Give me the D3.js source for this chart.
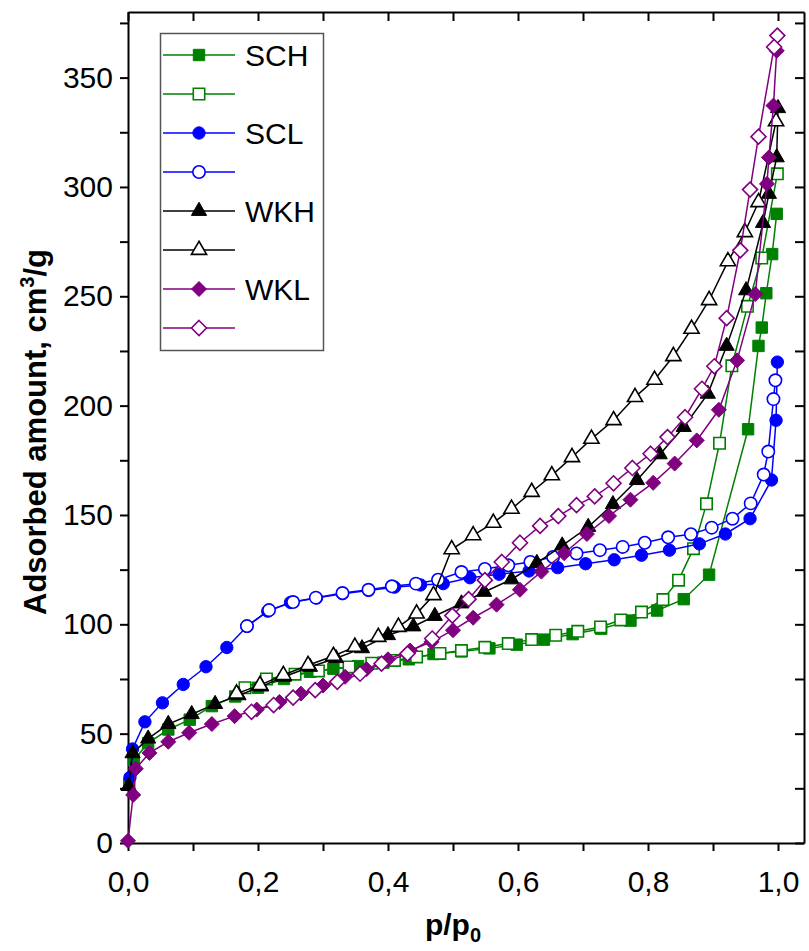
<!DOCTYPE html>
<html>
<head>
<meta charset="utf-8">
<script src="https://cdn.jsdelivr.net/npm/d3@7"></script>
<style>
  body { margin: 0; background: #fff; }
  svg { display: block; font-family: Arial, "Liberation Sans", sans-serif; }
</style>
</head>
<body>
<div id="container"></div>
<script>
// ---- data (p/p0, adsorbed amount cm3/g) ----
const SCH_ads_p = [0.002, 0.009, 0.031, 0.062, 0.095, 0.129, 0.165, 0.2, 0.24, 0.28, 0.316, 0.354, 0.393, 0.432, 0.47, 0.513, 0.556, 0.598, 0.64, 0.684, 0.728, 0.773, 0.814, 0.855, 0.894, 0.954, 0.97, 0.975, 0.982, 0.991, 0.998];
const SCH_ads_v = [27, 38, 45.7, 51.9, 56.4, 62.6, 67, 71, 75, 78.3, 79.7, 80.9, 82.5, 84, 86.4, 87.6, 89, 90.7, 93, 95.5, 98, 101.7, 106.3, 111.5, 122.7, 189.2, 227.3, 235.7, 251.4, 269.3, 287.7];
const SCH_des_p = [0.999, 0.975, 0.953, 0.929, 0.91, 0.89, 0.87, 0.847, 0.823, 0.79, 0.758, 0.727, 0.692, 0.658, 0.621, 0.585, 0.549, 0.513, 0.48, 0.444, 0.41, 0.375, 0.34, 0.293, 0.257, 0.213, 0.18];
const SCH_des_v = [306, 267.5, 245.4, 218.2, 182.8, 155.1, 134.6, 120.2, 111.3, 105.6, 102, 98.8, 96.8, 95, 93, 91.2, 89.5, 88, 86.7, 85.1, 83.5, 82.2, 80.5, 78.7, 77.2, 75, 71];

const SCL_ads_p = [0.003, 0.007, 0.026, 0.053, 0.085, 0.12, 0.152, 0.183, 0.215, 0.25, 0.29, 0.33, 0.37, 0.41, 0.45, 0.485, 0.526, 0.571, 0.617, 0.661, 0.704, 0.748, 0.79, 0.833, 0.879, 0.919, 0.957, 0.99, 0.997, 0.999];
const SCL_ads_v = [30, 43, 55.4, 64.1, 72.5, 80.6, 89.4, 99, 106, 110, 112, 114, 115.5, 117, 118, 118.6, 121.3, 122.9, 124.4, 125.9, 127.7, 129.5, 131.6, 133.9, 136.8, 141.3, 148.3, 166, 193.3, 219.9];
const SCL_des_p = [0.996, 0.993, 0.985, 0.978, 0.958, 0.93, 0.898, 0.866, 0.831, 0.795, 0.761, 0.726, 0.69, 0.654, 0.619, 0.585, 0.549, 0.513, 0.477, 0.443, 0.406, 0.37, 0.33, 0.289, 0.254, 0.217, 0.183];
const SCL_des_v = [211.6, 203, 179, 168.5, 155.3, 148.3, 144.2, 141.2, 139.8, 137.3, 135.4, 133.9, 132.4, 130.8, 128.5, 127, 125.3, 123.9, 120.4, 118.6, 117.4, 115.8, 114.3, 112.2, 110.2, 106.5, 99.2];

const WKH_ads_p = [0.001, 0.007, 0.031, 0.062, 0.098, 0.134, 0.17, 0.205, 0.24, 0.28, 0.32, 0.36, 0.4, 0.439, 0.472, 0.513, 0.548, 0.59, 0.629, 0.668, 0.708, 0.746, 0.783, 0.818, 0.855, 0.892, 0.921, 0.951, 0.977, 0.986, 0.998, 1.0];
const WKH_ads_v = [26, 41, 47.7, 54.4, 58.9, 63.5, 67.5, 71.5, 76, 80.5, 84.5, 89, 95, 99, 103.8, 109.5, 114.8, 120.5, 128, 136, 144.5, 154.9, 165.9, 177.7, 190.2, 205.4, 227.3, 252.7, 283.5, 296.8, 313.5, 336];
const WKH_des_p = [0.997, 0.97, 0.949, 0.923, 0.894, 0.867, 0.839, 0.81, 0.78, 0.747, 0.713, 0.683, 0.652, 0.621, 0.59, 0.562, 0.531, 0.498, 0.47, 0.444, 0.416, 0.385, 0.349, 0.316, 0.277, 0.239, 0.203, 0.167];
const WKH_des_v = [330, 293, 279.3, 266, 248.2, 235.1, 222.6, 211.8, 203.9, 193.3, 184.8, 176.4, 168.1, 160.5, 152.8, 146.4, 140.7, 134.3, 113.3, 104.9, 98.8, 94.2, 89.7, 85.5, 81.3, 76.8, 72.2, 68.3];

const WKL_ads_p = [0.0, 0.008, 0.012, 0.033, 0.062, 0.094, 0.129, 0.164, 0.198, 0.233, 0.266, 0.3, 0.334, 0.367, 0.4, 0.434, 0.467, 0.5, 0.531, 0.567, 0.603, 0.636, 0.671, 0.706, 0.74, 0.773, 0.808, 0.841, 0.875, 0.909, 0.937, 0.965, 0.983, 0.986, 0.993, 0.998];
const WKL_ads_v = [1, 22, 34, 41.2, 46.3, 50.4, 54.4, 58, 61, 64.5, 68.3, 72, 76, 79.5, 84, 88, 92, 97.3, 103, 109, 115.8, 124.1, 132.5, 141.3, 149.5, 157, 164.7, 173.5, 184.1, 198.1, 220.7, 251, 301.4, 313.5, 337.2, 362.3];
const WKL_des_p = [0.999, 0.994, 0.97, 0.957, 0.942, 0.921, 0.902, 0.883, 0.857, 0.83, 0.804, 0.776, 0.747, 0.718, 0.69, 0.662, 0.634, 0.603, 0.575, 0.549, 0.524, 0.499, 0.468, 0.43, 0.39, 0.357, 0.322, 0.288, 0.254, 0.224, 0.19];
const WKL_des_v = [369.2, 364, 323, 298.8, 271, 240, 218, 207.7, 194.7, 185.6, 178, 171.5, 164.5, 158.5, 154.5, 149.5, 145, 137.3, 128.5, 120.2, 111.5, 104, 93.5, 86.6, 82, 77.4, 73.7, 69.9, 66.5, 63.1, 60];

const legendLabels = ['SCH', '', 'SCL', '', 'WKH', '', 'WKL', ''];

// series table built from the arrays above
const series = [
  { p: SCH_ads_p, v: SCH_ads_v, color: '#008000', shape: 'square', filled: true },
  { p: SCH_des_p, v: SCH_des_v, color: '#008000', shape: 'square', filled: false },
  { p: SCL_ads_p, v: SCL_ads_v, color: '#0000ff', shape: 'circle', filled: true },
  { p: SCL_des_p, v: SCL_des_v, color: '#0000ff', shape: 'circle', filled: false },
  { p: WKH_ads_p, v: WKH_ads_v, color: '#000000', shape: 'triangle', filled: true },
  { p: WKH_des_p, v: WKH_des_v, color: '#000000', shape: 'triangle', filled: false },
  { p: WKL_ads_p, v: WKL_ads_v, color: '#800080', shape: 'diamond', filled: true },
  { p: WKL_des_p, v: WKL_des_v, color: '#800080', shape: 'diamond', filled: false }
];

// dimensions
const W = 809, H = 951;
const margin = { top: 12, right: 5, bottom: 108, left: 128 };
const width = W - margin.left - margin.right;
const height = H - margin.top - margin.bottom;

const svg = d3.select('#container')
  .append('svg')
  .attr('width', W)
  .attr('height', H);

const g = svg.append('g')
  .attr('transform', `translate(${margin.left},${margin.top})`);

// scales
const xScale = d3.scaleLinear().domain([0, 1.04]).range([0, width]);
const yScale = d3.scaleLinear().domain([0, 380]).range([height, 0]);

// marker shapes
const markerPath = shape => {
  if (shape === 'square') return d3.symbol(d3.symbolSquare, 130)();
  if (shape === 'circle') return d3.symbol(d3.symbolCircle, 120)();
  if (shape === 'triangle') return d3.symbol(d3.symbolTriangle, 100)();
  return 'M0,-7.5L7.5,0L0,7.5L-7.5,0Z';
};

/*==================================================
    AXES
===================================================*/
const fmt = d => d3.format('.1f')(d).replace('.', ',');
const xTicks = d3.range(0, 11).map(i => i / 10);
const yTicks = d3.range(0, 16).map(i => i * 25);

const styleAxis = sel => {
  sel.select('.domain').attr('stroke', '#000').attr('stroke-width', 2);
  sel.selectAll('.tick line').attr('stroke', '#000').attr('stroke-width', 2);
  sel.selectAll('.tick text').attr('fill', '#000').attr('font-size', 30);
};

g.append('g')
  .attr('transform', `translate(0,${height})`)
  .call(d3.axisBottom(xScale).tickValues(xTicks).tickSize(8).tickSizeOuter(0).tickPadding(20)
    .tickFormat((d, i) => i % 2 === 0 ? fmt(d) : ''))
  .call(styleAxis);

g.append('g')
  .call(d3.axisLeft(yScale).tickValues(yTicks).tickSize(8).tickSizeOuter(0).tickPadding(7)
    .tickFormat((d, i) => i % 2 === 0 ? d : ''))
  .call(styleAxis);

g.append('g')
  .call(d3.axisTop(xScale).tickValues(xTicks).tickSize(-9).tickSizeOuter(0).tickFormat(''))
  .call(styleAxis);

g.append('g')
  .attr('transform', `translate(${width},0)`)
  .call(d3.axisRight(yScale).tickValues(yTicks).tickSize(-9).tickSizeOuter(0).tickFormat(''))
  .call(styleAxis);

// axis titles
const yTitle = svg.append('text')
  .attr('transform', 'translate(46,432) rotate(-90)')
  .attr('text-anchor', 'middle')
  .attr('font-size', 31)
  .attr('font-weight', 'bold');
yTitle.append('tspan').text('Adsorbed amount, cm');
yTitle.append('tspan').attr('font-size', 20).attr('dy', -12).text('3');
yTitle.append('tspan').attr('dy', 12).text('/g');

const xTitle = svg.append('text')
  .attr('x', margin.left + xScale(0.5))
  .attr('y', 935)
  .attr('text-anchor', 'middle')
  .attr('font-size', 30)
  .attr('font-weight', 'bold');
xTitle.append('tspan').text('p/p');
xTitle.append('tspan').attr('font-size', 20).attr('dy', 7).text('0');

/*==================================================
    LINES AND MARKERS
===================================================*/
const line = d3.line().x(d => xScale(d[0])).y(d => yScale(d[1]));

series.forEach(s => {
  const pts = s.p.map((p, i) => [p, s.v[i]]);
  g.append('path')
    .datum(pts)
    .attr('d', line)
    .attr('fill', 'none')
    .attr('stroke', s.color)
    .attr('stroke-width', 1.5);

  g.append('g')
    .selectAll('path')
    .data(pts)
    .enter()
    .append('path')
    .attr('transform', d => `translate(${xScale(d[0])},${yScale(d[1])})`)
    .attr('d', markerPath(s.shape))
    .attr('fill', s.filled ? s.color : '#fff')
    .attr('stroke', s.color)
    .attr('stroke-width', s.filled ? 1 : 1.6);
});

/*==================================================
    LEGEND
===================================================*/
const legend = svg.append('g');
legend.append('rect')
  .attr('x', 160.5).attr('y', 33.5)
  .attr('width', 163).attr('height', 317)
  .attr('fill', '#fff')
  .attr('stroke', '#555')
  .attr('stroke-width', 1.5);

series.forEach((s, i) => {
  const y = 55 + i * 39;
  legend.append('line')
    .attr('x1', 163).attr('x2', 235)
    .attr('y1', y).attr('y2', y)
    .attr('stroke', s.color)
    .attr('stroke-width', 1.5);
  legend.append('path')
    .attr('transform', `translate(199,${y})`)
    .attr('d', markerPath(s.shape))
    .attr('fill', s.filled ? s.color : '#fff')
    .attr('stroke', s.color)
    .attr('stroke-width', s.filled ? 1 : 1.6);
  legend.append('text')
    .attr('x', 245).attr('y', y + 11)
    .attr('font-size', 30)
    .text(legendLabels[i]);
});
</script>
</body>
</html>
